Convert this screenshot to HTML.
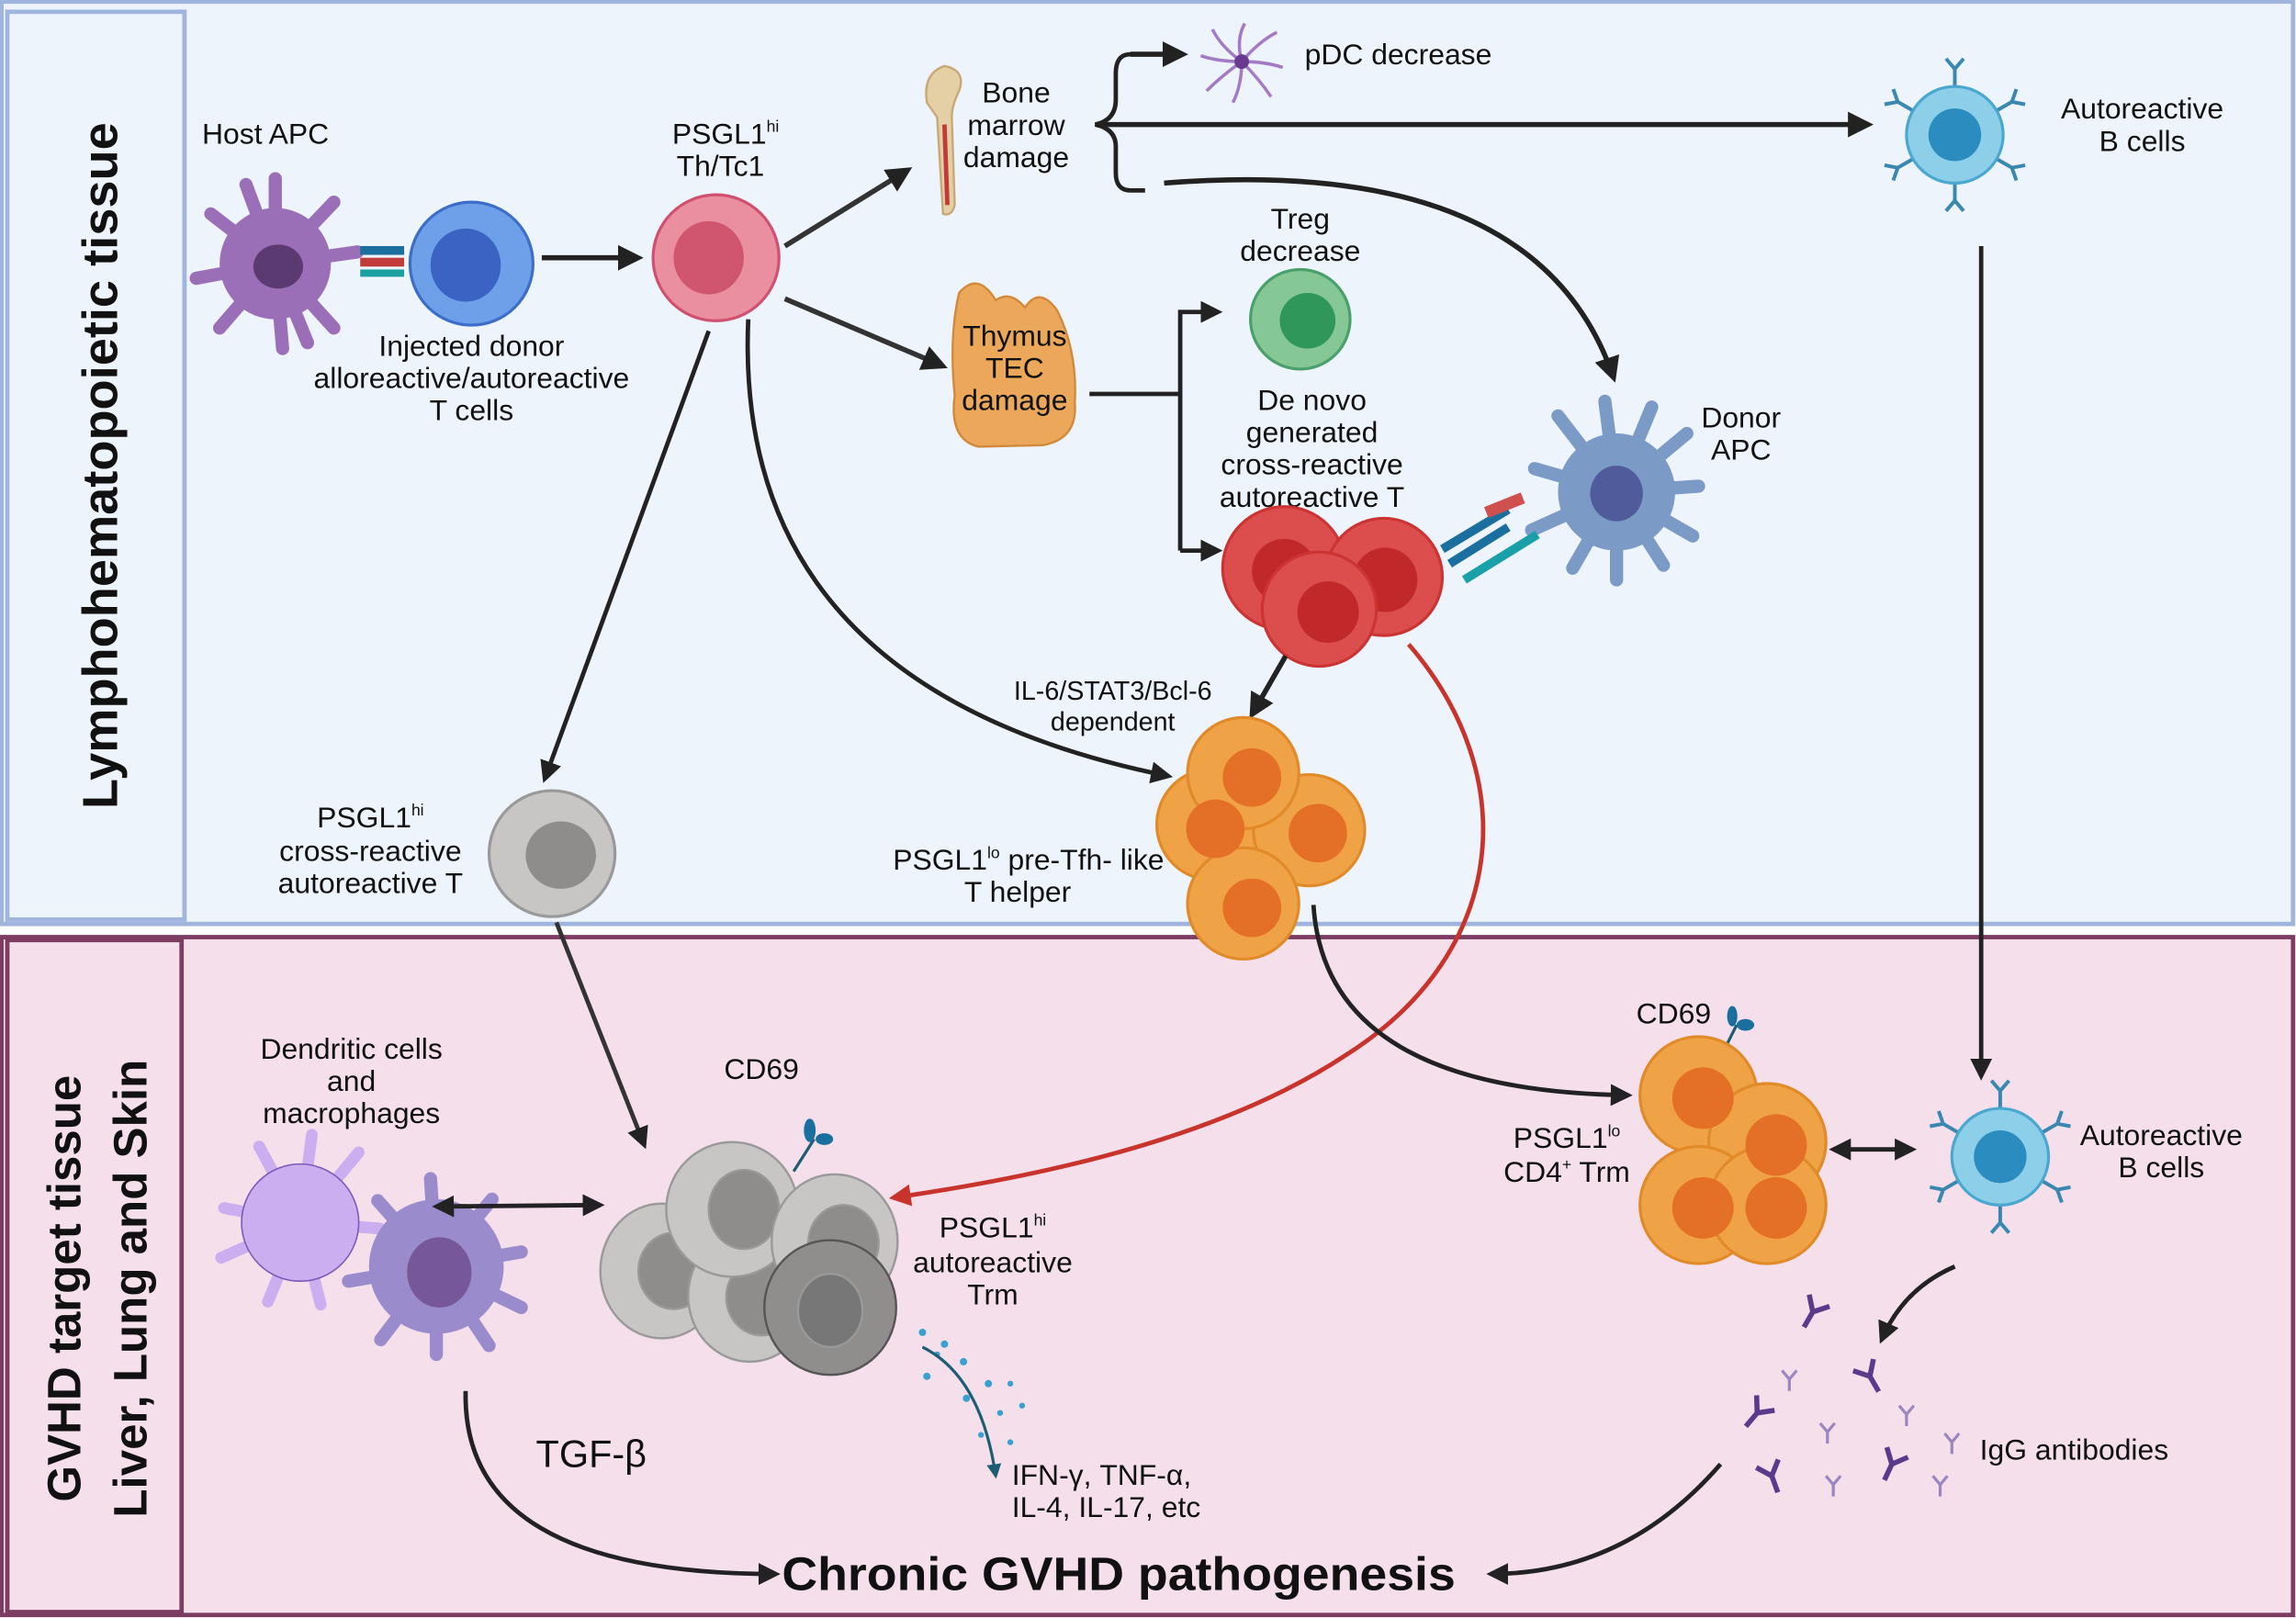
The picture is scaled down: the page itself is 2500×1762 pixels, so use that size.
<!DOCTYPE html>
<html><head><meta charset="utf-8"><style>
html,body{margin:0;padding:0;background:#fff}
svg{display:block}
text{font-family:"Liberation Sans",sans-serif;fill:#111}
</style></head><body>
<svg width="2500" height="1762" viewBox="0 0 1568 1105" xmlns="http://www.w3.org/2000/svg">
<defs>
<marker id="ah" viewBox="0 0 10 10" refX="8" refY="5" markerWidth="5" markerHeight="5" orient="auto-start-reverse"><path d="M0,0 L10,5 L0,10 z" fill="#222"/></marker>
<marker id="ahr" viewBox="0 0 10 10" refX="8" refY="5" markerWidth="5" markerHeight="5" orient="auto"><path d="M0,0 L10,5 L0,10 z" fill="#c8342c"/></marker>
<marker id="aht" viewBox="0 0 10 10" refX="8" refY="5" markerWidth="5" markerHeight="5" orient="auto"><path d="M0,0 L10,5 L0,10 z" fill="#1d5d73"/></marker>
<g id="ab"><path d="M0,0 L0,12 M0,0 L-8,-9 M0,0 L8,-9" stroke="#5a3a8a" stroke-width="3.5" fill="none"/></g>
<g id="abl"><path d="M0,0 L0,8 M0,0 L-5,-6 M0,0 L5,-6" stroke="#9a86c0" stroke-width="2" fill="none"/></g>
<g id="bab"><path d="M0,0 L0,-12 M0,-12 L-6,-19 M0,-12 L6,-19" stroke="#3a88b0" stroke-width="2.5" fill="none"/></g>
</defs>

<rect x="1" y="1" width="1565" height="630" fill="#eef4fc" stroke="#9fb5dd" stroke-width="3"/>
<rect x="5" y="8" width="121" height="620" fill="#eef4fc" stroke="#9fb5dd" stroke-width="3"/>
<rect x="1" y="640" width="1565" height="463" fill="#f4dfea" stroke="#7d3c62" stroke-width="3"/>
<rect x="5" y="642" width="119" height="459" fill="#f4dfea" stroke="#7d3c62" stroke-width="3"/>
<text transform="translate(80,318) rotate(-90)" text-anchor="middle" font-size="34" font-weight="bold">Lymphohematopoietic tissue</text>
<text transform="translate(55,880) rotate(-90)" text-anchor="middle" font-size="32" font-weight="bold">GVHD target tissue</text>
<text transform="translate(100,880) rotate(-90)" text-anchor="middle" font-size="32" font-weight="bold">Liver, Lung and Skin</text>

<g transform="translate(188,180)" stroke="#9b6fb8" stroke-width="9" stroke-linecap="round">
<line x1="0" y1="0" x2="0" y2="-58"/><line x1="0" y1="0" x2="40" y2="-42"/><line x1="0" y1="0" x2="56" y2="-8"/><line x1="0" y1="0" x2="40" y2="44"/><line x1="0" y1="0" x2="5" y2="58"/><line x1="0" y1="0" x2="-38" y2="44"/><line x1="0" y1="0" x2="-54" y2="10"/><line x1="0" y1="0" x2="-44" y2="-34"/><line x1="0" y1="0" x2="-20" y2="-54"/><line x1="0" y1="0" x2="22" y2="54"/>
</g>
<circle cx="188" cy="180" r="38" fill="#9b6fb8"/>
<ellipse cx="190" cy="182" rx="17" ry="15" fill="#5a3a70"/>
<rect x="246" y="168" width="30" height="6" fill="#1a6f9e"/><rect x="246" y="176" width="30" height="6" fill="#c23b3b"/><rect x="246" y="184" width="30" height="5" fill="#1aa0a0"/>
<text x="138" y="98" font-size="20">Host APC</text>
<circle cx="322" cy="180" r="42" fill="#6ea0ea" stroke="#3c6dc8" stroke-width="2"/>
<ellipse cx="318" cy="181" rx="24" ry="25" fill="#3a63c4"/>
<text text-anchor="middle" font-size="20"><tspan x="322" y="243">Injected donor</tspan><tspan x="322" y="265">alloreactive/autoreactive</tspan><tspan x="322" y="287">T cells</tspan></text>
<line x1="370" y1="176" x2="436" y2="176" stroke="#222" stroke-width="3.5" marker-end="url(#ah)"/>
<ellipse cx="489" cy="176" rx="43" ry="43" fill="#ea8fa0" stroke="#d05070" stroke-width="2"/>
<ellipse cx="484" cy="176" rx="24" ry="25" fill="#d0566f"/>
<text x="459" y="98" font-size="20">PSGL1<tspan font-size="11" dy="-8">hi</tspan></text>
<text x="462" y="120" font-size="20">Th/Tc1</text>
<line x1="536" y1="168" x2="620" y2="116" stroke="#333" stroke-width="3.5" marker-end="url(#ah)"/>
<line x1="536" y1="204" x2="644" y2="250" stroke="#333" stroke-width="3.5" marker-end="url(#ah)"/>
<path d="M633,70 Q630,50 645,45 Q660,48 655,62 Q650,72 650,80 L652,140 Q650,148 644,146 L640,80 Z" fill="#e5cfa5" stroke="#c9a877" stroke-width="1.5"/>
<line x1="645" y1="85" x2="647" y2="140" stroke="#c23b3b" stroke-width="3"/>
<text text-anchor="middle" font-size="20"><tspan x="694" y="70">Bone</tspan><tspan x="694" y="92">marrow</tspan><tspan x="694" y="114">damage</tspan></text>
<path d="M782,37 L772,37 Q762,37 762,50 L762,68 Q762,82 748,85 Q762,88 762,100 L762,118 Q762,130 772,130 L782,130" stroke="#222" stroke-width="3" fill="none"/>
<path d="M772,37 L808,37" stroke="#222" stroke-width="3.5" marker-end="url(#ah)"/>
<line x1="752" y1="85" x2="1276" y2="85" stroke="#222" stroke-width="3.5" marker-end="url(#ah)"/>
<path d="M795,125 Q1050,105 1102,258" stroke="#222" stroke-width="3.5" fill="none" marker-end="url(#ah)"/>
<g transform="translate(848,42)" stroke="#a37ac6" stroke-width="2.2" fill="none">
<path d="M0,0 Q-4,-15 2,-26"/><path d="M0,0 Q12,-14 24,-20"/><path d="M0,0 Q16,0 28,4"/><path d="M0,0 Q12,12 20,24"/><path d="M0,0 Q0,16 -6,28"/><path d="M0,0 Q-14,10 -24,20"/><path d="M0,0 Q-16,0 -28,-4"/><path d="M0,0 Q-14,-10 -20,-22"/>
</g>
<circle cx="848" cy="42" r="5" fill="#6a3a90"/>
<text x="891" y="44" font-size="20">pDC decrease</text>
<path d="M655,200 Q668,185 680,205 Q690,198 700,210 Q710,195 722,212 Q736,240 734,275 Q736,300 712,304 L668,305 Q648,300 652,270 Q648,230 655,200 Z" fill="#eba85a" stroke="#d28a3a" stroke-width="1.5"/>
<text text-anchor="middle" font-size="20"><tspan x="693" y="236">Thymus</tspan><tspan x="693" y="258">TEC</tspan><tspan x="693" y="280">damage</tspan></text>
<line x1="744" y1="269" x2="806" y2="269" stroke="#222" stroke-width="3"/>
<path d="M806,376 L806,213 L832,213" stroke="#222" stroke-width="3" fill="none" marker-end="url(#ah)"/>
<line x1="806" y1="376" x2="832" y2="376" stroke="#222" stroke-width="3" marker-end="url(#ah)"/>
<circle cx="888" cy="218" r="34" fill="#85c795" stroke="#4aa06a" stroke-width="2"/>
<circle cx="893" cy="219" r="19" fill="#2f9858"/>
<text text-anchor="middle" font-size="20"><tspan x="888" y="156">Treg</tspan><tspan x="888" y="178">decrease</tspan></text>
<text text-anchor="middle" font-size="20"><tspan x="896" y="280">De novo</tspan><tspan x="896" y="302">generated</tspan><tspan x="896" y="324">cross-reactive</tspan><tspan x="896" y="346">autoreactive T</tspan></text>
<g transform="translate(1104,336)" stroke="#7b9ac6" stroke-width="9" stroke-linecap="round">
<line x1="0" y1="0" x2="-8" y2="-62"/><line x1="0" y1="0" x2="24" y2="-58"/><line x1="0" y1="0" x2="48" y2="-40"/><line x1="0" y1="0" x2="56" y2="-4"/><line x1="0" y1="0" x2="52" y2="30"/><line x1="0" y1="0" x2="32" y2="50"/><line x1="0" y1="0" x2="0" y2="60"/><line x1="0" y1="0" x2="-30" y2="52"/><line x1="0" y1="0" x2="-58" y2="26"/><line x1="0" y1="0" x2="-56" y2="-16"/><line x1="0" y1="0" x2="-40" y2="-52"/>
</g>
<circle cx="1104" cy="336" r="40" fill="#7b9ac6"/>
<ellipse cx="1104" cy="337" rx="18" ry="19" fill="#4f5b9a"/>
<g stroke-width="6"><line x1="985" y1="375" x2="1030" y2="348" stroke="#1a6f9e"/><line x1="990" y1="385" x2="1030" y2="360" stroke="#1a6f9e"/><line x1="1015" y1="350" x2="1040" y2="340" stroke="#d05050" stroke-width="8"/><line x1="1000" y1="396" x2="1050" y2="365" stroke="#1aa0a8"/></g>
<text text-anchor="middle" font-size="20"><tspan x="1189" y="292">Donor</tspan><tspan x="1189" y="314">APC</tspan></text>
<circle cx="877" cy="388" r="42" fill="#dc4e4e" stroke="#c33" stroke-width="2"/><circle cx="877" cy="390" r="22" fill="#c0282a"/>
<circle cx="945" cy="394" r="40" fill="#dc4e4e" stroke="#c33" stroke-width="2"/><circle cx="946" cy="396" r="22" fill="#c0282a"/>
<circle cx="901" cy="416" r="39" fill="#dc4e4e" stroke="#c33" stroke-width="2"/><circle cx="907" cy="418" r="21" fill="#c0282a"/>
<line x1="878" y1="448" x2="855" y2="488" stroke="#222" stroke-width="3.5" marker-end="url(#ah)"/>
<path d="M962,440 C1040,530 1030,650 920,720 C830,780 700,805 610,818" stroke="#c8342c" stroke-width="3" fill="none" marker-end="url(#ahr)"/>
<path d="M511,218 Q500,470 798,530" stroke="#222" stroke-width="3" fill="none" marker-end="url(#ah)"/>
<line x1="484" y1="226" x2="372" y2="532" stroke="#222" stroke-width="3" marker-end="url(#ah)"/>
<text text-anchor="middle" font-size="18"><tspan x="760" y="478">IL-6/STAT3/Bcl-6</tspan><tspan x="760" y="499">dependent</tspan></text>
<g fill="#f0a346" stroke="#e08a2a" stroke-width="2">
<circle cx="828" cy="563" r="38"/><circle cx="894" cy="567" r="38"/><circle cx="849" cy="528" r="38"/><circle cx="849" cy="617" r="38"/></g>
<g fill="#e47028"><circle cx="830" cy="566" r="20"/><circle cx="900" cy="569" r="20"/><circle cx="855" cy="531" r="20"/><circle cx="855" cy="620" r="20"/></g>
<text text-anchor="end" font-size="20"><tspan x="795" y="594">PSGL1<tspan font-size="11" dy="-8">lo</tspan><tspan dy="8"> pre-Tfh- like</tspan></tspan></text>
<text x="695" y="616" text-anchor="middle" font-size="20">T helper</text>
<circle cx="377" cy="583" r="43" fill="#c8c6c4" stroke="#999" stroke-width="2"/>
<ellipse cx="383" cy="584" rx="24" ry="23" fill="#8f8d8b"/>
<text text-anchor="middle" font-size="20"><tspan x="253" y="565">PSGL1<tspan font-size="11" dy="-8">hi</tspan></tspan><tspan x="253" y="588">cross-reactive</tspan><tspan x="253" y="610">autoreactive T</tspan></text>
<line x1="380" y1="630" x2="440" y2="782" stroke="#333" stroke-width="3" marker-end="url(#ah)"/>
<g transform="translate(1335,92)">
<use href="#bab" transform="rotate(0) translate(0,-33)"/><use href="#bab" transform="rotate(60) translate(0,-33)"/><use href="#bab" transform="rotate(120) translate(0,-33)"/><use href="#bab" transform="rotate(180) translate(0,-33)"/><use href="#bab" transform="rotate(240) translate(0,-33)"/><use href="#bab" transform="rotate(300) translate(0,-33)"/>
<circle r="33" fill="#8dcfe8" stroke="#4aa7d0" stroke-width="2"/><circle r="18" fill="#2a8cbf"/></g>
<text text-anchor="middle" font-size="20"><tspan x="1463" y="81">Autoreactive</tspan><tspan x="1463" y="103">B cells</tspan></text>
<line x1="1353" y1="168" x2="1353" y2="735" stroke="#222" stroke-width="3" marker-end="url(#ah)"/>
<text text-anchor="middle" font-size="20"><tspan x="240" y="723">Dendritic cells</tspan><tspan x="240" y="745">and</tspan><tspan x="240" y="767">macrophages</tspan></text>
<g transform="translate(205,835)" stroke="#cbaef0" stroke-width="8" stroke-linecap="round">
<line x1="0" y1="0" x2="-28" y2="-52"/><line x1="0" y1="0" x2="8" y2="-60"/><line x1="0" y1="0" x2="40" y2="-48"/><line x1="0" y1="0" x2="-52" y2="-10"/><line x1="0" y1="0" x2="-54" y2="24"/><line x1="0" y1="0" x2="-22" y2="54"/><line x1="0" y1="0" x2="14" y2="56"/><line x1="0" y1="0" x2="54" y2="4"/></g>
<circle cx="205" cy="835" r="40" fill="#cbaef0" stroke="#7b5ab8" stroke-width="1"/>
<g transform="translate(298,865)" stroke="#9a8ccc" stroke-width="9" stroke-linecap="round">
<line x1="0" y1="0" x2="-40" y2="-45"/><line x1="0" y1="0" x2="-4" y2="-60"/><line x1="0" y1="0" x2="38" y2="-46"/><line x1="0" y1="0" x2="58" y2="-10"/><line x1="0" y1="0" x2="58" y2="28"/><line x1="0" y1="0" x2="36" y2="54"/><line x1="0" y1="0" x2="0" y2="60"/><line x1="0" y1="0" x2="-38" y2="50"/><line x1="0" y1="0" x2="-60" y2="10"/></g>
<circle cx="298" cy="865" r="46" fill="#9a8ccc"/>
<ellipse cx="300" cy="869" rx="22" ry="24" fill="#76579a"/>
<line x1="298" y1="824" x2="410" y2="823" stroke="#222" stroke-width="3" marker-start="url(#ah)" marker-end="url(#ah)"/>
<text x="520" y="737" text-anchor="middle" font-size="20">CD69</text>
<line x1="542" y1="800" x2="556" y2="778" stroke="#1d5d73" stroke-width="2"/><ellipse cx="553" cy="772" rx="4" ry="8" fill="#1a6f9e"/><ellipse cx="563" cy="778" rx="6" ry="4" fill="#1a6f9e"/>
<g stroke="#999" stroke-width="1.5">
<ellipse cx="452" cy="868" rx="42" ry="46" fill="#c8c6c4"/><ellipse cx="460" cy="868" rx="24" ry="26" fill="#8f8d8b"/>
<ellipse cx="512" cy="885" rx="42" ry="45" fill="#c8c6c4"/><ellipse cx="520" cy="886" rx="24" ry="26" fill="#8f8d8b"/>
<ellipse cx="500" cy="826" rx="45" ry="46" fill="#c8c6c4"/><ellipse cx="508" cy="826" rx="24" ry="27" fill="#8f8d8b"/>
<ellipse cx="570" cy="848" rx="43" ry="46" fill="#c8c6c4"/><ellipse cx="576" cy="849" rx="24" ry="26" fill="#8f8d8b"/>
<ellipse cx="567" cy="893" rx="45" ry="46" fill="#8f8e8d" stroke="#555"/><ellipse cx="567" cy="895" rx="22" ry="25" fill="#777"/></g>
<text text-anchor="middle" font-size="20"><tspan x="678" y="845">PSGL1<tspan font-size="11" dy="-8">hi</tspan></tspan><tspan x="678" y="869">autoreactive</tspan><tspan x="678" y="891">Trm</tspan></text>
<g fill="#3aa0d0"><circle cx="630" cy="910" r="2.5"/><circle cx="645" cy="918" r="2.5"/><circle cx="633" cy="940" r="2.5"/><circle cx="658" cy="930" r="2.5"/><circle cx="660" cy="955" r="2.5"/><circle cx="675" cy="945" r="2.5"/><circle cx="683" cy="965" r="2"/><circle cx="690" cy="945" r="2"/><circle cx="698" cy="960" r="2"/><circle cx="670" cy="980" r="2"/><circle cx="690" cy="985" r="2"/><circle cx="640" cy="925" r="2"/></g>
<path d="M630,920 Q670,940 680,1008" stroke="#1d5d73" stroke-width="2" fill="none" marker-end="url(#aht)"/>
<text text-anchor="start" font-size="20"><tspan x="691" y="1014">IFN-γ, TNF-α,</tspan><tspan x="691" y="1036">IL-4, IL-17, etc</tspan></text>
<text x="366" y="1002" font-size="26">TGF-β</text>
<path d="M318,950 Q315,1075 530,1075" stroke="#222" stroke-width="3" fill="none" marker-end="url(#ah)"/>
<text x="534" y="1086" font-size="32" font-weight="bold" textLength="460" lengthAdjust="spacingAndGlyphs">Chronic GVHD pathogenesis</text>
<path d="M1175,1000 Q1110,1075 1018,1075" stroke="#222" stroke-width="3" fill="none" marker-end="url(#ah)"/>
<path d="M897,618 Q905,745 1112,748" stroke="#222" stroke-width="3" fill="none" marker-end="url(#ah)"/>
<text x="1143" y="699" text-anchor="middle" font-size="20">CD69</text>
<line x1="1175" y1="722" x2="1186" y2="700" stroke="#1d5d73" stroke-width="2"/><ellipse cx="1183" cy="694" rx="3.5" ry="7" fill="#1a6f9e"/><ellipse cx="1192" cy="700" rx="6" ry="4" fill="#1a6f9e"/>
<g fill="#f0a346" stroke="#e08a2a" stroke-width="2">
<circle cx="1160" cy="748" r="40"/><circle cx="1207" cy="780" r="40"/><circle cx="1160" cy="823" r="40"/><circle cx="1207" cy="823" r="40"/></g>
<g fill="#e47028"><circle cx="1163" cy="750" r="21"/><circle cx="1213" cy="782" r="21"/><circle cx="1163" cy="825" r="21"/><circle cx="1213" cy="825" r="21"/></g>
<text text-anchor="middle" font-size="20"><tspan x="1070" y="784">PSGL1<tspan font-size="11" dy="-8">lo</tspan></tspan><tspan x="1070" y="807">CD4<tspan font-size="11" dy="-8">+</tspan><tspan dy="8"> Trm</tspan></tspan></text>
<line x1="1252" y1="785" x2="1306" y2="785" stroke="#222" stroke-width="3" marker-start="url(#ah)" marker-end="url(#ah)"/>
<g transform="translate(1366,790)">
<use href="#bab" transform="rotate(0) translate(0,-33)"/><use href="#bab" transform="rotate(60) translate(0,-33)"/><use href="#bab" transform="rotate(120) translate(0,-33)"/><use href="#bab" transform="rotate(180) translate(0,-33)"/><use href="#bab" transform="rotate(240) translate(0,-33)"/><use href="#bab" transform="rotate(300) translate(0,-33)"/>
<circle r="33" fill="#8dcfe8" stroke="#4aa7d0" stroke-width="2"/><circle r="18" fill="#2a8cbf"/></g>
<text text-anchor="middle" font-size="20"><tspan x="1476" y="782">Autoreactive</tspan><tspan x="1476" y="804">B cells</tspan></text>
<path d="M1335,865 Q1300,880 1285,915" stroke="#222" stroke-width="3" fill="none" marker-end="url(#ah)"/>
<use href="#ab" transform="translate(1238,896) rotate(30)"/><use href="#ab" transform="translate(1277,940) rotate(-30)"/><use href="#ab" transform="translate(1200,965) rotate(40)"/><use href="#ab" transform="translate(1210,1008) rotate(-20)"/><use href="#ab" transform="translate(1292,1000) rotate(25)"/>
<use href="#abl" x="1222" y="942"/><use href="#abl" x="1302" y="966"/><use href="#abl" x="1248" y="978"/><use href="#abl" x="1333" y="985"/><use href="#abl" x="1252" y="1014"/><use href="#abl" x="1325" y="1014"/>
<text x="1352" y="997" font-size="20">IgG antibodies</text>
</svg>
</body></html>
